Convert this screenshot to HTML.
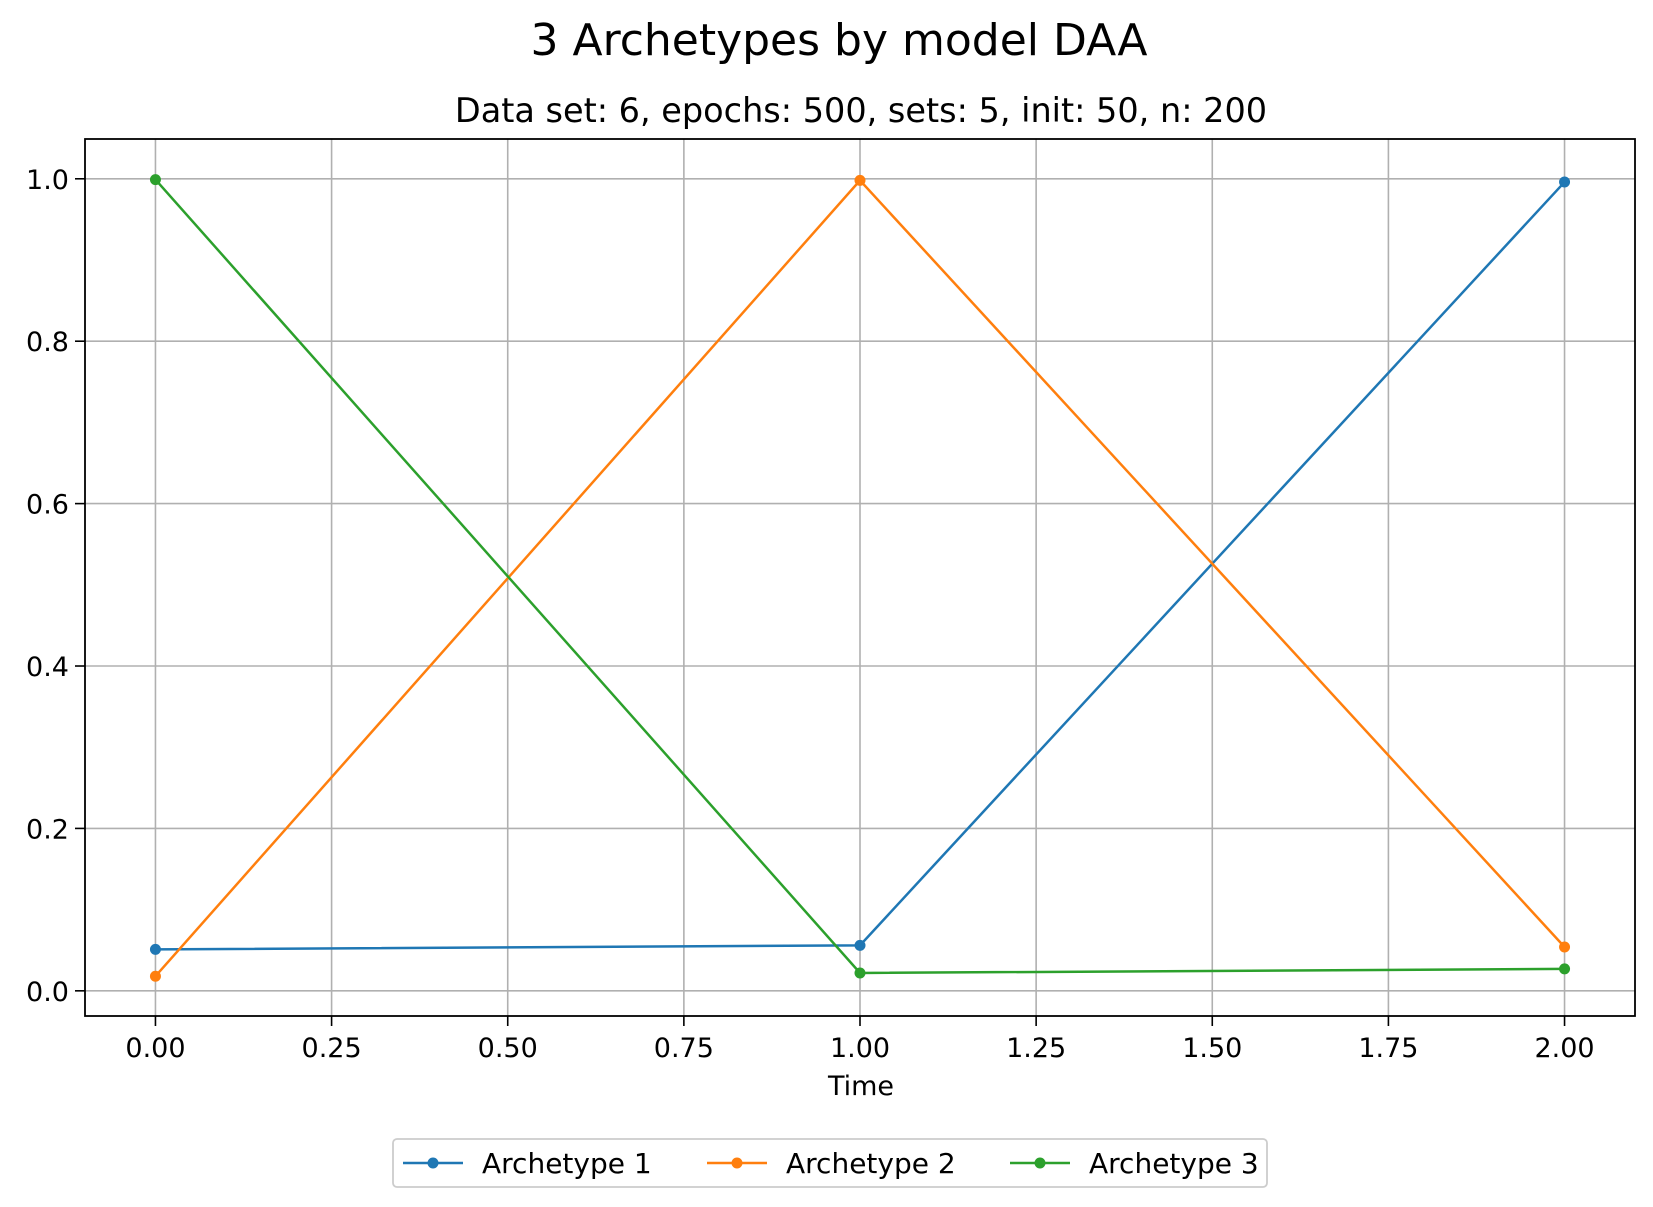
<!DOCTYPE html>
<html><head><meta charset="utf-8"><style>
body{margin:0;background:#fff}
svg text{font-family:"DejaVu Sans","Liberation Sans",sans-serif;fill:#000}
</style></head><body>
<svg id="chart" width="1653" height="1202" viewBox="0 0 1653 1202" xmlns="http://www.w3.org/2000/svg">
<text x="839" y="55" font-size="44" text-anchor="middle">3 Archetypes by model DAA</text>
<text x="861" y="122" font-size="33.5" text-anchor="middle">Data set: 6, epochs: 500, sets: 5, init: 50, n: 200</text>
<g id="grid"></g><g id="series"></g><g id="axes"></g>
<text x="861" y="1095" font-size="27" text-anchor="middle">Time</text>
<g id="legend"></g>
</svg>
<script>
const times=[0,1,2];
const seriesNames=["Archetype 1","Archetype 2","Archetype 3"];
const archetype1=[0.051,0.056,0.996];
const archetype2=[0.018,0.998,0.054];
const archetype3=[0.999,0.022,0.027];
const xTicks=[0,0.25,0.5,0.75,1,1.25,1.5,1.75,2];
const xTickLabels=["0.00","0.25","0.50","0.75","1.00","1.25","1.50","1.75","2.00"];
const yTicks=[0,0.2,0.4,0.6,0.8,1.0];
const yTickLabels=["0.0","0.2","0.4","0.6","0.8","1.0"];

const NS="http://www.w3.org/2000/svg";
const L=85,R=1635,T=139,B=1016;
const xmin=-0.1,xmax=2.1,ymin=-0.031,ymax=1.049;
const X=v=>L+(v-xmin)/(xmax-xmin)*(R-L);
const Y=v=>B-(v-ymin)/(ymax-ymin)*(B-T);
function mk(tag,attrs,parent){const e=document.createElementNS(NS,tag);for(const k in attrs)e.setAttribute(k,attrs[k]);parent.appendChild(e);return e;}
const grid=document.getElementById('grid'),axes=document.getElementById('axes'),ser=document.getElementById('series'),leg=document.getElementById('legend');
xTicks.forEach((t,i)=>{
 const g=mk('line',{x1:X(t),x2:X(t),y1:T,y2:B,stroke:'#b0b0b0','stroke-width':1.6},grid);
 
 
 mk('line',{x1:X(t),x2:X(t),y1:B,y2:B+10,stroke:'#000','stroke-width':1.6},axes);
 const tx=mk('text',{x:X(t),y:1057,'font-size':27,'text-anchor':'middle'},axes);
 tx.textContent=xTickLabels[i];
 
 
});
yTicks.forEach((t,i)=>{
 const g=mk('line',{x1:L,x2:R,y1:Y(t),y2:Y(t),stroke:'#b0b0b0','stroke-width':1.6},grid);
 
 
 mk('line',{x1:L-10,x2:L,y1:Y(t),y2:Y(t),stroke:'#000','stroke-width':1.6},axes);
 const tx=mk('text',{x:L-16,y:Y(t)+10,'font-size':27,'text-anchor':'end'},axes);
 tx.textContent=yTickLabels[i];
 
 
});
const frame=mk('rect',{x:L,y:T,width:R-L,height:B-T,fill:'none',stroke:'#000','stroke-width':1.8},axes);


const colors=['#1f77b4','#ff7f0e','#2ca02c'];
[archetype1,archetype2,archetype3].forEach((vals,si)=>{
 const pl=mk('polyline',{points:vals.map((v,i)=>X(times[i])+','+Y(v)).join(' '),fill:'none',stroke:colors[si],'stroke-width':2.5},ser);
 
 
 vals.forEach((v,i)=>{
  const c=mk('circle',{cx:X(times[i]),cy:Y(v),r:5.5,fill:colors[si]},ser);
  
  
 });
});
const box=mk('rect',{x:393,y:1139,width:874,height:48,rx:4,fill:'#fff',stroke:'#ccc','stroke-width':1.8},leg);


const lx=[403,707,1010];
seriesNames.forEach((n,i)=>{
 const g=mk('g',{},leg);
 
 
 mk('line',{x1:lx[i],x2:lx[i]+60,y1:1163,y2:1163,stroke:colors[i],'stroke-width':2.5},g);
 mk('circle',{cx:lx[i]+30,cy:1163,r:5.5,fill:colors[i]},g);
 const t=mk('text',{x:lx[i]+79,y:1173,'font-size':28},g);
 t.textContent=n;
});
</script>
</body></html>
